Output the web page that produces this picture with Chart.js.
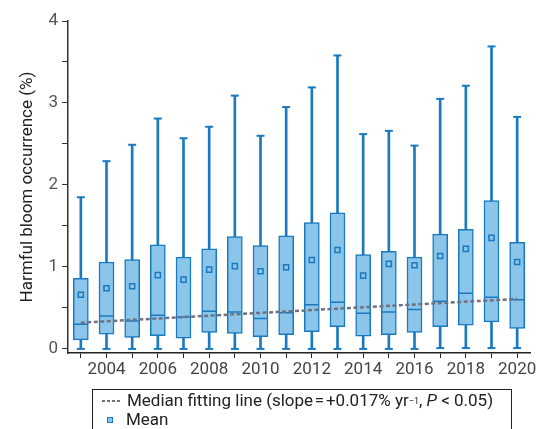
<!DOCTYPE html>
<html>
<head>
<meta charset="utf-8">
<script src="https://cdn.jsdelivr.net/npm/chart.js@4"></script>
<style>
    body { margin: 0; background: #fff; }
    .wrap { position: relative; width: 547px; height: 429px; }
    .legend {
        position: absolute; left: 92px; top: 389px; width: 420px; height: 50px;
        border: 1px solid #222; box-sizing: border-box;
        font-family: Roboto, "Liberation Sans", sans-serif; font-size: 17px; color: #222;
        padding: 1px 0 0 9px; line-height: 19px;
    }
    .legend .row { display: flex; align-items: center; white-space: nowrap; }
    .dash {
        display: inline-block; width: 20px; height: 2px; margin-right: 5px;
        background: repeating-linear-gradient(90deg, #6e7383 0 3px, transparent 3px 5px);
    }
    .sq { display: inline-block; width: 4px; height: 4px; border: 1.5px solid #1a7ac0; background: #8cc5ea; margin: 0 13px 0 5px; }
    sup { font-size: 9px; vertical-align: 7px; line-height: 0; }
</style>
</head>
<body>
<div class="wrap">
    <canvas id="chart" width="547" height="429"></canvas>
    <div class="legend">
        <div class="row"><span class="dash"></span>Median fitting line (slope&#8202;=&#8202;+0.017% yr<sup>&minus;1</sup>,&nbsp;<i>P</i>&nbsp;&lt; 0.05)</div>
        <div class="row"><span class="sq"></span>Mean</div>
    </div>
</div>
<script>
// Data
const years = ['2003', '2004', '2005', '2006', '2007', '2008', '2009', '2010', '2011',
    '2012', '2013', '2014', '2015', '2016', '2017', '2018', '2019', '2020'];
const whiskerMin = [0, 0, 0, 0, 0, 0, 0, 0, 0, 0, 0, 0, 0, 0, 0.01, 0.01, 0.01, 0.01];
const whiskerMax = [1.85, 2.29, 2.49, 2.81, 2.57, 2.71, 3.09, 2.60, 2.95,
    3.19, 3.58, 2.62, 2.66, 2.48, 3.05, 3.21, 3.69, 2.83];
const q1 = [0.11, 0.18, 0.14, 0.16, 0.13, 0.20, 0.19, 0.15, 0.175,
    0.21, 0.27, 0.155, 0.175, 0.20, 0.27, 0.29, 0.33, 0.25];
const q3 = [0.86, 1.06, 1.09, 1.27, 1.12, 1.22, 1.37, 1.26, 1.38,
    1.54, 1.66, 1.15, 1.19, 1.12, 1.40, 1.46, 1.81, 1.30];
const medians = [0.30, 0.40, 0.34, 0.41, 0.39, 0.46, 0.45, 0.37, 0.44,
    0.54, 0.57, 0.435, 0.45, 0.48, 0.58, 0.68, 0.63, 0.60];
const means = [0.66, 0.74, 0.765, 0.90, 0.845, 0.967, 1.01, 0.947, 0.996,
    1.085, 1.207, 0.894, 1.037, 1.02, 1.134, 1.22, 1.354, 1.06];
const fitYears = ['2003', '2020'];
const fitValues = [0.32, 0.61];
const yTicks = [0, 0.5, 1, 1.5, 2, 2.5, 3, 3.5, 4];

// Colours
const BOX_FILL = '#8cc5ea';
const BOX_EDGE = '#1a7ac0';
const FIT_COLOR = '#6e7383';
const FONT = 'Roboto, "Liberation Sans", sans-serif';

const ctx = document.getElementById('chart').getContext('2d');

new Chart(ctx, {
    type: 'bar',
    data: {
        labels: years,
        datasets: [
            {
                // whiskers
                data: years.map((y, i) => [whiskerMin[i], whiskerMax[i]]),
                backgroundColor: BOX_EDGE,
                barThickness: 2,
                grouped: false,
                order: 6
            },
            {
                // boxes
                data: years.map((y, i) => [q1[i], q3[i]]),
                backgroundColor: BOX_FILL,
                borderColor: BOX_EDGE,
                borderWidth: 1.5,
                borderSkipped: false,
                barThickness: 15,
                grouped: false,
                order: 5
            },
            {
                type: 'line',
                data: medians,
                showLine: false,
                pointStyle: 'line',
                pointRadius: 7,
                pointBorderColor: BOX_EDGE,
                pointBorderWidth: 1.5,
                order: 4
            },
            {
                type: 'line',
                data: whiskerMax,
                showLine: false,
                pointStyle: 'line',
                pointRadius: 4,
                pointBorderColor: BOX_EDGE,
                pointBorderWidth: 2,
                order: 3
            },
            {
                type: 'line',
                data: whiskerMin,
                showLine: false,
                pointStyle: 'line',
                pointRadius: 4,
                pointBorderColor: BOX_EDGE,
                pointBorderWidth: 2,
                order: 3
            },
            {
                type: 'line',
                data: means,
                showLine: false,
                pointStyle: 'rect',
                pointRadius: 3.6,
                pointBackgroundColor: BOX_FILL,
                pointBorderColor: BOX_EDGE,
                pointBorderWidth: 1.5,
                order: 2
            },
            {
                type: 'line',
                data: fitYears.map((y, i) => ({ x: y, y: fitValues[i] })),
                borderColor: FIT_COLOR,
                borderWidth: 2.5,
                borderDash: [4, 2.5],
                pointRadius: 0,
                fill: false,
                order: 1
            }
        ]
    },
    options: {
        responsive: false,
        animation: false,
        layout: {
            padding: { top: 21, right: 17, bottom: 46, left: 18 }
        },
        plugins: {
            legend: { display: false },
            tooltip: { enabled: false }
        },
        scales: {
            x: {
                offset: true,
                grid: {
                    display: true,
                    drawOnChartArea: false,
                    tickLength: 5,
                    color: '#222',
                    offset: false
                },
                border: { color: '#222', width: 1.5 },
                ticks: {
                    autoSkip: false,
                    maxRotation: 0,
                    padding: 2,
                    color: '#444',
                    font: { family: FONT, size: 17 },
                    callback: function (value, index) {
                        return index % 2 === 1 ? years[index] : '';
                    }
                },
                afterFit: function (scale) { scale.height = 30; }
            },
            y: {
                min: -0.05,
                max: 4,
                afterBuildTicks: function (scale) {
                    scale.ticks = yTicks.map(v => ({ value: v }));
                },
                grid: {
                    display: true,
                    drawOnChartArea: false,
                    tickLength: 6,
                    color: '#333'
                },
                border: { color: '#333', width: 1.5 },
                ticks: {
                    padding: 4,
                    color: '#555',
                    font: { family: FONT, size: 17 },
                    callback: function (value) {
                        return Number.isInteger(value) ? String(value) : '';
                    }
                },
                title: {
                    display: true,
                    text: 'Harmful bloom occurrence (%)',
                    color: '#222',
                    font: { family: FONT, size: 17 },
                    padding: { top: 0, bottom: 0 }
                },
                afterFit: function (scale) { scale.width = 50; }
            }
        }
    }
});
</script>
</body>
</html>
